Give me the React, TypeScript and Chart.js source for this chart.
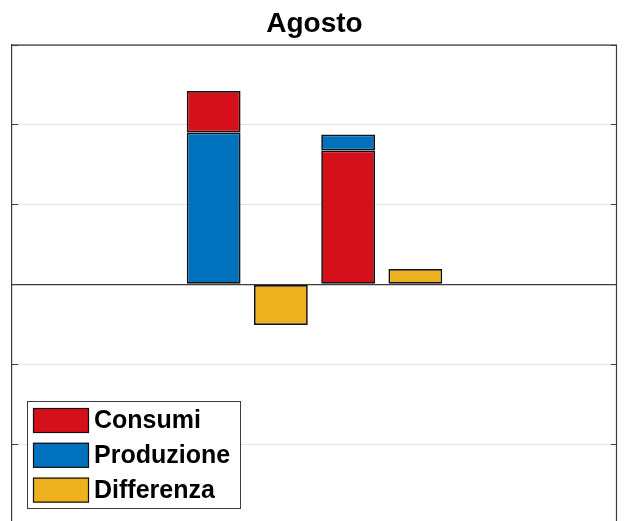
import { useEffect, useRef } from "react";
import { Chart, registerables } from "chart.js";

Chart.register(...registerables);

// ---- data ----
const categories = ["0", "1", "2", "3", "4", "5", "6", "7", "8", "9"];
const produzioneBase = [null, null, null, 1.9, null, null, null, null, null, null];
const consumi = [null, null, null, 0.52, null, 1.675, null, null, null, null];
const produzioneTop = [null, null, null, null, null, 0.2, null, null, null, null];
const differenza = [null, null, null, null, -0.51, null, 0.19, null, null, null];
const yTicks = [-3, -2, -1, 0, 1, 2, 3];
const legendLabels = ["Consumi", "Produzione", "Differenza"];
const titleText = "Agosto";

const RED = "#D5101A";
const BLUE = "#0072BD";
const YELLOW = "#EDB120";
const EDGE = "#111111";
const FONT = "'Liberation Sans', Arial, Helvetica, sans-serif";

const framePlugin = {
  id: "frame",
  afterDraw(chart: any) {
    const { ctx, chartArea, scales } = chart;
    const { left, right, top, bottom } = chartArea;
    ctx.save();
    ctx.strokeStyle = "#3c3c3c";
    ctx.lineWidth = 1.2;
    ctx.beginPath();
    ctx.moveTo(left, top + 0.5);
    ctx.lineTo(right, top + 0.5);
    ctx.moveTo(right - 0.5, top);
    ctx.lineTo(right - 0.5, bottom);
    ctx.stroke();
    // inward tick marks
    const y = scales.y;
    ctx.beginPath();
    for (const v of yTicks) {
      const py = Math.round(y.getPixelForValue(v)) + 0.5;
      ctx.moveTo(left, py);
      ctx.lineTo(left + 6, py);
      ctx.moveTo(right, py);
      ctx.lineTo(right - 6, py);
    }
    ctx.stroke();

    // legend box (MATLAB style, inside axes, south-west)
    const colors = [RED, BLUE, YELLOW];
    const bx = 27, by = 401, bw = 213, bh = 107;
    ctx.fillStyle = "#ffffff";
    ctx.fillRect(bx, by, bw, bh);
    ctx.strokeStyle = "#3c3c3c";
    ctx.lineWidth = 1;
    ctx.strokeRect(bx + 0.5, by + 0.5, bw, bh);
    ctx.font = `bold 25px ${FONT}`;
    ctx.textBaseline = "middle";
    ctx.textAlign = "left";
    legendLabels.forEach((lab, i) => {
      const sy = 408 + i * 34.8;
      ctx.fillStyle = colors[i];
      ctx.fillRect(33, sy, 56, 25);
      ctx.strokeStyle = EDGE;
      ctx.lineWidth = 1.2;
      ctx.strokeRect(33.5, sy + 0.5, 55, 24);
      ctx.fillStyle = "#000000";
      ctx.fillText(lab, 94, sy + 13.5);
    });
    ctx.restore();
  },
};

export default function App() {
  const ref = useRef<HTMLCanvasElement | null>(null);

  useEffect(() => {
    if (!ref.current) return;
    const bar = (label: string, data: any[], color: string) => ({
      label,
      data,
      backgroundColor: color,
      borderColor: EDGE,
      borderWidth: 1.7,
      borderSkipped: false,
      categoryPercentage: 1,
      barPercentage: 0.8,
    });
    const chart = new Chart(ref.current, {
      type: "bar",
      data: {
        labels: categories,
        datasets: [
          bar("Produzione", produzioneBase, BLUE),
          bar("Consumi", consumi, RED),
          bar("Produzione", produzioneTop, BLUE),
          bar("Differenza", differenza, YELLOW),
        ],
      },
      options: {
        animation: false,
        responsive: true,
        maintainAspectRatio: false,
        layout: { padding: { left: 12, right: 8, top: 0, bottom: 2 } },
        plugins: {
          legend: { display: false },
          tooltip: { enabled: false },
          title: {
            display: true,
            text: titleText,
            color: "#000000",
            font: { family: FONT, size: 28, weight: "bold", lineHeight: 1.2 },
            padding: { top: 7, bottom: 4 },
          },
        },
        scales: {
          x: {
            stacked: true,
            offset: false,
            ticks: { display: false },
            grid: { display: false, drawTicks: false },
            border: { display: false },
          },
          y: {
            stacked: true,
            min: -3,
            max: 3,
            afterBuildTicks: (s: any) => {
              s.ticks = yTicks.map((v) => ({ value: v }));
            },
            ticks: { display: false },
            grid: {
              drawTicks: false,
              color: (c: any) => (c.tick && c.tick.value === 0 ? "#3c3c3c" : "#e3e3e3"),
              lineWidth: (c: any) => (c.tick && c.tick.value === 0 ? 1.3 : 1),
            },
            border: { display: true, color: "#3c3c3c", width: 1.2 },
          },
        },
      },
      plugins: [framePlugin],
    });
    return () => chart.destroy();
  }, []);

  return (
    <div style={{ position: "fixed", left: 0, top: 0, width: 625, height: 526, background: "#fff" }}>
      <canvas ref={ref} />
    </div>
  );
}
